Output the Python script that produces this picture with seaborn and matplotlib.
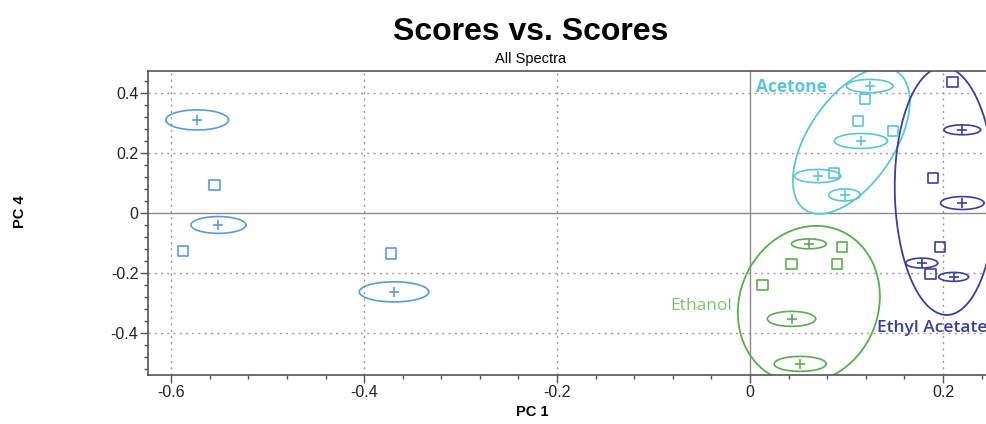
import numpy as np
import pandas as pd
import matplotlib
matplotlib.use("Agg")
import matplotlib.pyplot as plt
from matplotlib.ticker import MultipleLocator, FuncFormatter
import seaborn as sns

# ---------------- data ----------------
groups = ["Other", "Acetone", "Ethyl Acetate", "Ethanol"]
colors = {"Other": "#5b9bd5", "Acetone": "#5cc4d6",
          "Ethyl Acetate": "#3b3f9a", "Ethanol": "#5aad50"}

# individual samples (open squares)
sq_group = ["Other", "Other", "Other",
            "Acetone", "Acetone", "Acetone", "Acetone",
            "Ethyl Acetate", "Ethyl Acetate", "Ethyl Acetate", "Ethyl Acetate",
            "Ethanol", "Ethanol", "Ethanol", "Ethanol"]
sq_x = [-0.555, -0.588, -0.372,
        0.119, 0.112, 0.148, 0.087,
        0.210, 0.190, 0.197, 0.187,
        0.095, 0.043, 0.090, 0.013]
sq_y = [0.093, -0.127, -0.135,
        0.380, 0.307, 0.273, 0.133,
        0.437, 0.117, -0.113, -0.203,
        -0.113, -0.170, -0.170, -0.240]

# averaged samples (plus sign with confidence ellipse)
cr_group = ["Other", "Other", "Other",
            "Acetone", "Acetone", "Acetone", "Acetone",
            "Ethyl Acetate", "Ethyl Acetate", "Ethyl Acetate", "Ethyl Acetate",
            "Ethanol", "Ethanol", "Ethanol"]
cr_x = [-0.573, -0.551, -0.369,
        0.124, 0.115, 0.070, 0.098,
        0.220, 0.220, 0.178, 0.211,
        0.061, 0.043, 0.052]
cr_y = [0.310, -0.040, -0.263,
        0.423, 0.240, 0.123, 0.060,
        0.277, 0.033, -0.167, -0.213,
        -0.103, -0.353, -0.503]
cr_w = [0.065, 0.057, 0.072,
        0.048, 0.055, 0.048, 0.033,
        0.038, 0.045, 0.033, 0.031,
        0.036, 0.050, 0.054]
cr_h = [0.067, 0.056, 0.067,
        0.044, 0.050, 0.044, 0.040,
        0.033, 0.043, 0.033, 0.030,
        0.033, 0.050, 0.050]

# class ellipses: centre, half-extent x/y, phase (tilt)
cl_group = ["Acetone", "Ethyl Acetate", "Ethanol"]
cl_cx = [0.105, 0.202, 0.061]
cl_cy = [0.240, 0.073, -0.305]
cl_rx = [0.0606, 0.052, 0.0736]
cl_ry = [0.243, 0.413, 0.262]
cl_phase = [57, 92, 84]

labels = ["Acetone", "Ethyl Acetate", "Ethanol"]
label_x = [0.006, 0.132, -0.083]
label_y = [0.420, -0.385, -0.310]
label_color = ["#5cc4d6", "#3b3f9a", "#7cc46e"]
label_weight = ["bold", "semibold", "normal"]

# ---------------- figure ----------------
sns.set_theme(style="white")
plt.rcParams["font.family"] = ["Liberation Sans", "DejaVu Sans"]
plt.rcParams["text.color"] = "black"
plt.rcParams["axes.labelcolor"] = "black"

fig = plt.figure(figsize=(9.86, 4.24), dpi=100)
ax = fig.add_axes([0.1501, 0.1156, 0.8499, 0.7169])
ax.set_xlim(-0.624, 0.2446)
ax.set_ylim(-0.54, 0.473)

# grid and zero lines
for v in [-0.6, -0.4, -0.2, 0.2]:
    ax.axvline(v, color="#9a9a9a", lw=1.0, ls=(0, (1.5, 3)), zorder=0)
for v in [0.4, 0.2, -0.2, -0.4]:
    ax.axhline(v, color="#9a9a9a", lw=1.0, ls=(0, (1.5, 3)), zorder=0)
ax.axvline(0, color="#8a8a8a", lw=1.0, zorder=0)
ax.axhline(0, color="#8a8a8a", lw=1.0, zorder=0)

sq = pd.DataFrame({"x": sq_x, "y": sq_y, "g": sq_group})
cr = pd.DataFrame({"x": cr_x, "y": cr_y, "w": cr_w, "h": cr_h, "g": cr_group})

t = np.linspace(0, 2 * np.pi, 200)
for g in groups:
    c = colors[g]
    d = sq[sq.g == g]
    sns.scatterplot(x=d.x, y=d.y, marker="s", s=55, facecolor="none",
                    edgecolor=c, linewidth=1.2, ax=ax, zorder=3)
    d2 = cr[cr.g == g]
    sns.scatterplot(x=d2.x, y=d2.y, marker="+", s=60, color=c,
                    linewidth=1.2, ax=ax, zorder=3)
    for _, r in d2.iterrows():
        ex = r.x + r.w / 2 * np.cos(t)
        ey = r.y + r.h / 2 * np.sin(t)
        sns.lineplot(x=ex, y=ey, sort=False, estimator=None, color=c,
                     lw=1.2, ax=ax)

for g, cx, cy, rx, ry, ph in zip(cl_group, cl_cx, cl_cy, cl_rx, cl_ry, cl_phase):
    ex = cx + rx * np.cos(t)
    ey = cy + ry * np.cos(t - np.deg2rad(ph))
    sns.lineplot(x=ex, y=ey, sort=False, estimator=None, color=colors[g],
                 lw=1.3, ax=ax)

for s, x, y, c, w in zip(labels, label_x, label_y, label_color, label_weight):
    ax.text(x, y, s, color=c, fontsize=12.5, fontweight=w, ha="left",
            va="center", family=["Open Sans", "DejaVu Sans"])

# axes styling
for side in ["left", "bottom", "top"]:
    ax.spines[side].set_visible(True)
    ax.spines[side].set_color("#555555")
    ax.spines[side].set_linewidth(1.2)
ax.spines["right"].set_visible(False)

ax.xaxis.set_major_locator(MultipleLocator(0.2))
ax.xaxis.set_minor_locator(MultipleLocator(0.04))
ax.yaxis.set_major_locator(MultipleLocator(0.2))
ax.yaxis.set_minor_locator(MultipleLocator(0.04))
fmt = FuncFormatter(lambda v, p: "0" if abs(v) < 1e-9 else f"{v:.1f}")
ax.xaxis.set_major_formatter(fmt)
ax.yaxis.set_major_formatter(fmt)
ax.tick_params(axis="both", which="major", direction="out", length=5.5,
               width=1, color="#555555", labelsize=11.5, labelcolor="#222222",
               pad=1.5, bottom=True, left=True, top=False, right=False)
ax.tick_params(axis="both", which="minor", direction="out", length=3,
               width=1, color="#555555", bottom=True, left=True,
               top=False, right=False)
ax.set_xlabel("")
ax.set_ylabel("")
fig.text(532 / 986, 1 - 412 / 424, "PC 1", fontsize=10.5, fontweight="bold",
         ha="center", va="center")
fig.text(0.0205, 0.5, "PC 4", rotation=90, fontsize=10.5, fontweight="bold",
         ha="center", va="center")

fig.text(0.5385, 0.925, "Scores vs. Scores", fontsize=23, fontweight="bold",
         ha="center", va="center")
fig.text(0.5385, 0.862, "All Spectra", fontsize=10.5, ha="center", va="center")

fig.savefig("out.png", dpi=100)
